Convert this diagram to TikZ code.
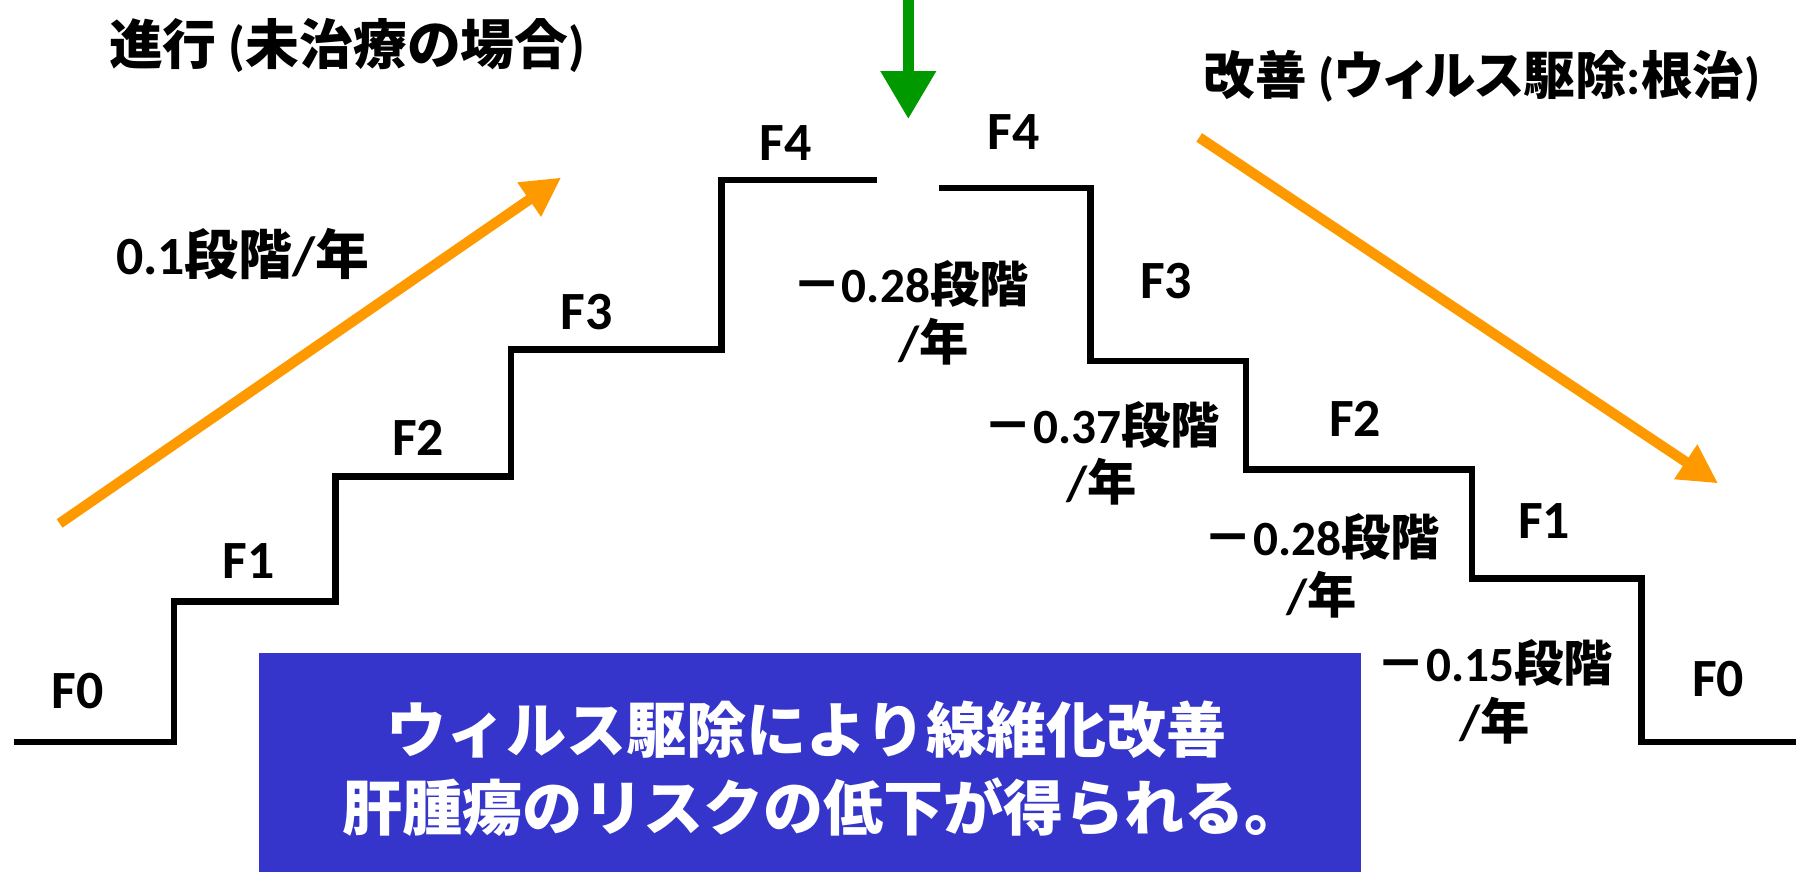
\documentclass[tikz,border=0pt]{standalone}
\usepackage{fontspec}
\setmainfont{Carlito}
\newfontfamily\cjk{Noto Sans CJK JP}
\newfontfamily\cjkp{Noto Sans CJK JP}[RawFeature=+palt]
\usetikzlibrary{arrows.meta}
\definecolor{boxblue}{RGB}{53,53,204}
\definecolor{arrorange}{RGB}{255,153,0}
\definecolor{arrgreen}{RGB}{0,153,0}
\newcommand{\J}[1]{{\cjk #1}}
\newcommand{\JP}[1]{{\cjkp #1}}
\begin{document}
\begin{tikzpicture}[x=1pt,y=-1pt,
  stair/.style={line width=5.5pt, line join=miter},
  lbl/.style={font=\fontsize{47}{50}\selectfont\bfseries, inner sep=0pt, align=center},
  rate/.style={font=\fontsize{43}{50}\selectfont\bfseries, inner sep=0pt, align=center},
  bigarrow/.style={arrorange, line width=9pt, -{Triangle[length=34pt,width=34pt]}},
  msgbox/.style={fill=boxblue, draw=none, inner sep=0pt},
  msgtext/.style={inner sep=0pt, text=white, font=\fontsize{52.5}{68}\selectfont\bfseries\cjk}]
\useasboundingbox (0,0) rectangle (1568,761);
% left staircase (progression)
\coordinate (l0) at (12,648);
\coordinate (l1) at (152,648);
\coordinate (l2) at (152,525);
\coordinate (l3) at (293,525);
\coordinate (l4) at (293,416);
\coordinate (l5) at (446,416);
\coordinate (l6) at (446,305);
\coordinate (l7) at (630,305);
\coordinate (l8) at (630,157);
\coordinate (l9) at (766,157);
\draw[stair] (l0) -- (l1) -- (l2) -- (l3) -- (l4) -- (l5) -- (l6) -- (l7) -- (l8) -- (l9);
% right staircase (improvement)
\coordinate (r0) at (820,164);
\coordinate (r1) at (952,164);
\coordinate (r2) at (952,315);
\coordinate (r3) at (1088,315);
\coordinate (r4) at (1088,410);
\coordinate (r5) at (1285,410);
\coordinate (r6) at (1285,505);
\coordinate (r7) at (1433,505);
\coordinate (r8) at (1433,648);
\coordinate (r9) at (1568,648);
\draw[stair] (r0) -- (r1) -- (r2) -- (r3) -- (r4) -- (r5) -- (r6) -- (r7) -- (r8) -- (r9);
% stage labels
\node[lbl] (f0l) at (68,603) {F0};
\node[lbl] (f1l) at (217,490) {F1};
\node[lbl] (f2l) at (365,382) {F2};
\node[lbl] (f3l) at (512,272) {F3};
\node[lbl] (f4l) at (686,125) {F4};
\node[lbl] (f4r) at (885,115) {F4};
\node[lbl] (f3r) at (1018,245) {F3};
\node[lbl] (f2r) at (1183,366) {F2};
\node[lbl] (f1r) at (1348,455) {F1};
\node[lbl] (f0r) at (1500,593) {F0};
% titles
\node[lbl, anchor=west] (tprog) at (95,40) {\J{進行} (\J{未治療の場合})};
\node[lbl, anchor=east, font=\fontsize{45}{50}\selectfont\bfseries] (timpr) at (1537,67) {\J{改善} (\JP{ウィルス}\J{駆除}:\J{根治})};
% rates
\node[lbl] (rup) at (212,222) {0.1\J{段階}/\J{年}};
\node[rate] (rd1) at (795,273) {\J{－}0.28\J{段階}\\\hspace*{40pt}/\J{年}};
\node[rate] (rd2) at (962,396) {\J{－}0.37\J{段階}\\/\J{年}};
\node[rate] (rd3) at (1154,494) {\J{－}0.28\J{段階}\\/\J{年}};
\node[rate] (rd4) at (1305,604) {\J{－}0.15\J{段階}\\/\J{年}};
% arrows
\coordinate (ua) at (52,457);
\coordinate (ub) at (490,155);
\draw[bigarrow] (ua) -- (ub);
\coordinate (da) at (1047,120);
\coordinate (db) at (1500,422);
\draw[bigarrow] (da) -- (db);
\coordinate (ga) at (793,0);
\coordinate (gb) at (793,104);
\draw[arrgreen, line width=10pt, -{Triangle[length=42pt,width=46pt]}] (ga) -- (gb);
% message box
\node[msgbox, minimum width=962pt, minimum height=191pt, anchor=north west] (msg) at (226,570) {};
\node[msgtext] (msg1) at (704,637) {ウィルス駆除により線維化改善};
\node[msgtext] (msg2) at (719,705) {肝腫瘍のリスクの低下が得られる。};
\end{tikzpicture}
\end{document}
